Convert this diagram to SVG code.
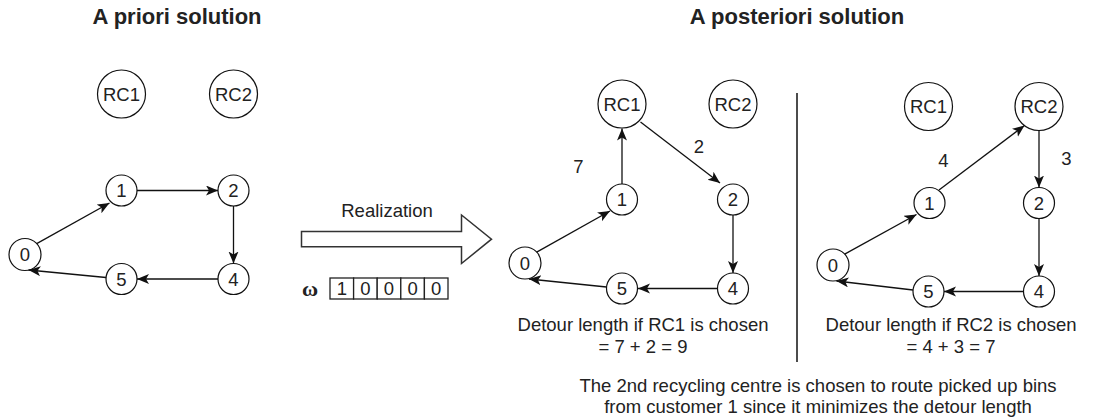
<svg xmlns="http://www.w3.org/2000/svg" width="1093" height="420" viewBox="0 0 1093 420">
<defs>
<style>
.t{font-family:"Liberation Sans",Arial,sans-serif;font-size:18.5px;fill:#222;}
.title{font-family:"Liberation Sans",Arial,sans-serif;font-size:22px;font-weight:bold;fill:#222;text-anchor:middle;}
.nd{fill:#fff;stroke:#111;stroke-width:1.2;}
.lbl{text-anchor:middle;}
.e{fill:none;stroke:#111;stroke-width:1.3;marker-end:url(#arr);}
.cell{fill:#fff;stroke:#222;stroke-width:1.3;}
</style>
<marker id="arr" markerUnits="userSpaceOnUse" markerWidth="14" markerHeight="12" refX="12" refY="5" orient="auto">
<path d="M0,0 L12,5 L0,10 L3,5 Z" fill="#111"/>
</marker>
</defs>
<rect width="1093" height="420" fill="#fff"/>

<text class="title" x="177" y="24">A priori solution</text>
<text class="title" x="797" y="24">A posteriori solution</text>

<!-- Left graph nodes -->
<g id="L-RC1"><circle class="nd" cx="121.5" cy="94" r="24"/><text class="t lbl" x="121.5" y="100.5">RC1</text></g>
<g id="L-RC2"><circle class="nd" cx="233.5" cy="94" r="24"/><text class="t lbl" x="233.5" y="100.5">RC2</text></g>
<g id="L-1"><circle class="nd" cx="121.5" cy="190.5" r="15.5"/><text class="t lbl" x="121.5" y="197">1</text></g>
<g id="L-2"><circle class="nd" cx="233.5" cy="190.5" r="15.5"/><text class="t lbl" x="233.5" y="197">2</text></g>
<g id="L-0"><circle class="nd" cx="25" cy="254.5" r="16"/><text class="t lbl" x="25" y="261">0</text></g>
<g id="L-5"><circle class="nd" cx="121.5" cy="279" r="15.5"/><text class="t lbl" x="121.5" y="285.5">5</text></g>
<g id="L-4"><circle class="nd" cx="233.5" cy="279" r="15.5"/><text class="t lbl" x="233.5" y="285.5">4</text></g>

<!-- Middle graph nodes -->
<g id="M-RC1"><circle class="nd" cx="622" cy="104" r="24"/><text class="t lbl" x="622" y="110.5">RC1</text></g>
<g id="M-RC2"><circle class="nd" cx="733" cy="104" r="24"/><text class="t lbl" x="733" y="110.5">RC2</text></g>
<g id="M-1"><circle class="nd" cx="622" cy="199.5" r="15.5"/><text class="t lbl" x="622" y="206">1</text></g>
<g id="M-2"><circle class="nd" cx="733" cy="199.5" r="15.5"/><text class="t lbl" x="733" y="206">2</text></g>
<g id="M-0"><circle class="nd" cx="525" cy="263" r="16"/><text class="t lbl" x="525" y="269.5">0</text></g>
<g id="M-5"><circle class="nd" cx="622" cy="288.5" r="15.5"/><text class="t lbl" x="622" y="295">5</text></g>
<g id="M-4"><circle class="nd" cx="733" cy="288.5" r="15.5"/><text class="t lbl" x="733" y="295">4</text></g>

<!-- Right graph nodes -->
<g id="R-RC1"><circle class="nd" cx="928.5" cy="106.5" r="24"/><text class="t lbl" x="928.5" y="113">RC1</text></g>
<g id="R-RC2"><circle class="nd" cx="1039" cy="106.5" r="24"/><text class="t lbl" x="1039" y="113">RC2</text></g>
<g id="R-1"><circle class="nd" cx="929.5" cy="203" r="15.5"/><text class="t lbl" x="929.5" y="209.5">1</text></g>
<g id="R-2"><circle class="nd" cx="1039" cy="203" r="15.5"/><text class="t lbl" x="1039" y="209.5">2</text></g>
<g id="R-0"><circle class="nd" cx="833" cy="265" r="16"/><text class="t lbl" x="833" y="271.5">0</text></g>
<g id="R-5"><circle class="nd" cx="928.5" cy="291.5" r="15.5"/><text class="t lbl" x="928.5" y="298">5</text></g>
<g id="R-4"><circle class="nd" cx="1039" cy="291.5" r="15.5"/><text class="t lbl" x="1039" y="298">4</text></g>

<!-- Connectors -->
<g id="connectors">
<path class="e" d="M36.7,243.6 L109.5,203"/>
<path class="e" d="M137,190.5 L218,190.5"/>
<path class="e" d="M233.5,206 L233.5,263.5"/>
<path class="e" d="M218,279 L137,279"/>
<path class="e" d="M106,277.5 L28.5,270"/>

<path class="e" d="M536.7,252.1 L610,211"/>
<path class="e" d="M622,184 L622,128.5"/>
<path class="e" d="M640.5,122 L720,183"/>
<path class="e" d="M733,215 L733,273"/>
<path class="e" d="M717.5,288.5 L638,288.5"/>
<path class="e" d="M606.5,287 L529,279"/>

<path class="e" d="M844.7,254.1 L916.5,214.5"/>
<path class="e" d="M939,190 L1024.5,125.5"/>
<path class="e" d="M1039,130.5 L1039,187.5"/>
<path class="e" d="M1039,218.5 L1039,276"/>
<path class="e" d="M1023.5,291.5 L944,291.5"/>
<path class="e" d="M913,290 L836.5,281"/>
</g>

<!-- Edge labels -->
<text class="t lbl" x="578.5" y="173">7</text>
<text class="t lbl" x="699" y="152.5">2</text>
<text class="t lbl" x="943.5" y="166.5">4</text>
<text class="t lbl" x="1066.5" y="165">3</text>

<!-- Realization arrow -->
<g id="realization">
<path d="M301.5,231.5 L461.5,231.5 L461.5,215 L491.5,239.2 L461.5,263.5 L461.5,246.8 L301.5,246.8 Z" fill="#fff" stroke="#333" stroke-width="1.5" stroke-linejoin="miter"/>
<text class="t lbl" x="387" y="216.5">Realization</text>
</g>

<!-- omega vector -->
<g id="omega">
<text x="310" y="296" font-family="'Liberation Serif','DejaVu Serif',serif" font-size="22" font-weight="bold" fill="#222" text-anchor="middle">ω</text>
<rect class="cell" x="330" y="278" width="23.6" height="21"/>
<rect class="cell" x="353.6" y="278" width="23.6" height="21"/>
<rect class="cell" x="377.2" y="278" width="23.6" height="21"/>
<rect class="cell" x="400.8" y="278" width="23.6" height="21"/>
<rect class="cell" x="424.4" y="278" width="23.6" height="21"/>
<text class="t lbl" x="341.8" y="295">1</text>
<text class="t lbl" x="365.4" y="295">0</text>
<text class="t lbl" x="389" y="295">0</text>
<text class="t lbl" x="412.6" y="295">0</text>
<text class="t lbl" x="436.2" y="295">0</text>
</g>

<!-- Divider -->
<line x1="797" y1="93" x2="797" y2="362" stroke="#111" stroke-width="1.5"/>

<!-- Captions -->
<text class="t lbl" x="643" y="331">Detour length if RC1 is chosen</text>
<text class="t lbl" x="643" y="353">= 7 + 2 = 9</text>
<text class="t lbl" x="951" y="331">Detour length if RC2 is chosen</text>
<text class="t lbl" x="951" y="353">= 4 + 3 = 7</text>
<text class="t lbl" x="818" y="391.5">The 2nd recycling centre is chosen to route picked up bins</text>
<text class="t lbl" x="818" y="413">from customer 1 since it minimizes the detour length</text>
</svg>
